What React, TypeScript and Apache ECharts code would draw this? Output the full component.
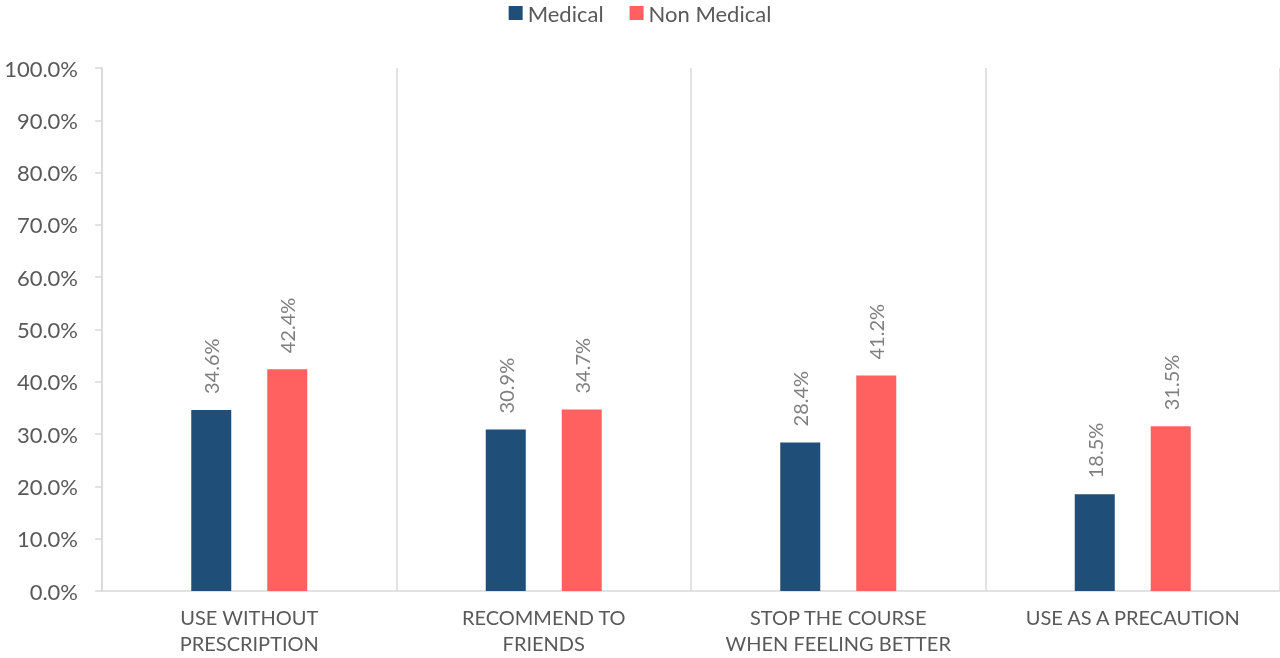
import React, { useEffect, useRef } from "react";
import * as echarts from "echarts";

const categories = [
  "USE WITHOUT\nPRESCRIPTION",
  "RECOMMEND TO\nFRIENDS",
  "STOP THE COURSE\nWHEN FEELING BETTER",
  "USE AS A PRECAUTION",
];
const medical = [34.6, 30.9, 28.4, 18.5];
const nonMedical = [42.4, 34.7, 41.2, 31.5];
const seriesNames = ["Medical", "Non Medical"];

const FONT = "Lato, 'Open Sans', sans-serif";

export default function App() {
  const ref = useRef<HTMLDivElement>(null);
  useEffect(() => {
    document.body.style.margin = "0";
    const chart = echarts.init(ref.current!, null, { renderer: "svg" });
    const label = {
      show: true,
      position: "top",
      rotate: 90,
      align: "left",
      verticalAlign: "middle",
      distance: 16,
      fontSize: 20,
      color: "#7f7f7f",
      fontFamily: FONT,
      formatter: (p: any) => p.value.toFixed(1) + "%",
    };
    chart.setOption({
      animation: false,
      textStyle: { fontFamily: FONT },
      legend: {
        top: 2,
        left: "center",
        padding: 0,
        itemWidth: 14,
        itemHeight: 14,
        itemGap: 26,
        icon: "rect",
        textStyle: { fontSize: 22, lineHeight: 22, color: "#595959", fontFamily: FONT },
        data: seriesNames,
      },
      grid: {
        left: 102,
        right: 0,
        top: 68,
        bottom: 67,
        containLabel: false,
        outerBoundsMode: "none",
      },
      xAxis: {
        type: "category",
        data: categories,
        axisLine: { show: true, lineStyle: { color: "#d9d9d9", width: 1.5 } },
        axisTick: { show: false },
        splitLine: { show: true, lineStyle: { color: "#d9d9d9", width: 1.5 } },
        axisLabel: {
          fontSize: 20,
          color: "#595959",
          lineHeight: 26,
          margin: 13,
          fontFamily: FONT,
          interval: 0,
        },
      },
      yAxis: {
        type: "value",
        min: 0,
        max: 100,
        interval: 10,
        axisLine: { show: true, lineStyle: { color: "#d9d9d9", width: 1.5 } },
        axisTick: { show: true, length: 7, lineStyle: { color: "#d9d9d9", width: 1.5 } },
        splitLine: { show: false },
        axisLabel: {
          fontSize: 22,
          color: "#595959",
          margin: 24,
          fontFamily: FONT,
          formatter: (v: number) => v.toFixed(1) + "%",
        },
      },
      series: [
        {
          name: seriesNames[0],
          type: "bar",
          data: medical,
          barWidth: 40,
          barGap: "90%",
          itemStyle: { color: "#1f4e79" },
          label,
        },
        {
          name: seriesNames[1],
          type: "bar",
          data: nonMedical,
          barWidth: 40,
          itemStyle: { color: "#ff6161" },
          label,
        },
      ],
    });
    return () => chart.dispose();
  }, []);
  return (
    <div
      ref={ref}
      style={{ position: "fixed", left: 0, top: 0, width: 1280, height: 658 }}
    />
  );
}
